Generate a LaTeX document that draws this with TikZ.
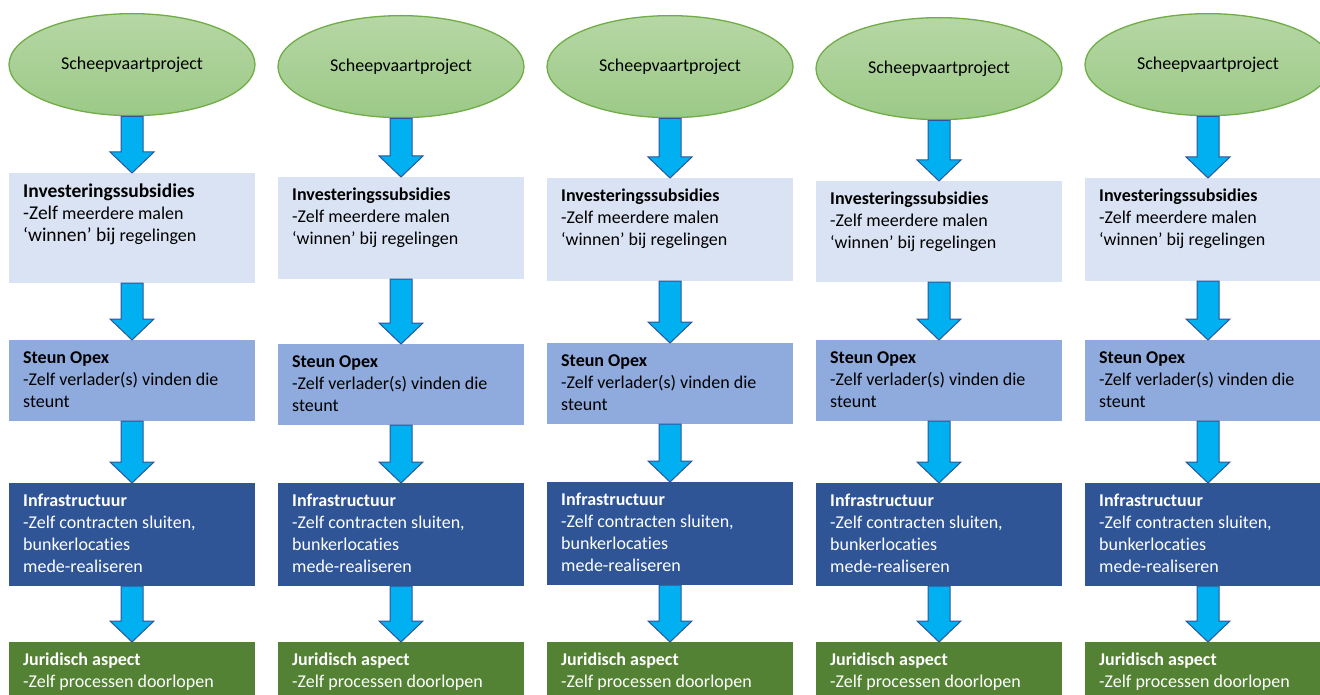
\documentclass[tikz,border=0pt]{standalone}
\usepackage{fontspec}
\setmainfont{Carlito}[Ligatures=NoCommon]
\usetikzlibrary{calc}
\usetikzlibrary{shapes.geometric}

\definecolor{projline}{HTML}{70AD47}
\definecolor{projtop}{HTML}{B6D7A5}
\definecolor{projbot}{HTML}{9CC987}
\definecolor{invfill}{HTML}{DAE3F3}
\definecolor{opexfill}{HTML}{8FAADC}
\definecolor{infrafill}{HTML}{2F5597}
\definecolor{jurfill}{HTML}{548235}
\definecolor{arrowfill}{HTML}{00B0F0}
\definecolor{arrowline}{HTML}{2F5597}

\tikzset{
  project/.style={ellipse, draw=projline, line width=1.3pt, top color=projtop, bottom color=projbot,
    minimum width=246pt, minimum height=102pt, inner sep=0pt, anchor=north,
    font=\fontsize{18}{22}\selectfont},
  stage/.style={rectangle, inner sep=0pt, outer sep=0pt, minimum width=246pt, anchor=north},
  stagetext/.style={anchor=north west, align=left, inner sep=0pt, font=\fontsize{18}{22}\selectfont},
  blockarrow/.style={fill=arrowfill, draw=arrowline, line width=1pt},
}

% block arrow from the bottom of #1 to the top of #2
\newcommand\blockdown[2]{%
  \draw[blockarrow] let \p1=(#1.south), \p2=(#2.north) in
    (\x1-11pt,\y1) -- (\x1+11pt,\y1) -- (\x1+11pt,\y2+21pt) -- (\x1+22pt,\y2+21pt)
    -- (\x1,\y2) -- (\x1-22pt,\y2+21pt) -- (\x1-11pt,\y2+21pt) -- cycle;}
% bigger words in the first column
\newcommand\hi[1]{{\fontsize{\fsz}{22}\selectfont#1}}

\begin{document}
\begin{tikzpicture}[x=1pt,y=-1pt]
  % Boundary
  \useasboundingbox (0,0) rectangle (1320,695);
  \clip (0,0) rectangle (1320,695);
  % Columns
  \foreach \k/\c/\et/\at/\ah/\bt/\ct/\fsz in {1/132/13/173/110/340/483/19.5, 2/401/15/177/102/344/483/18,
      3/670/15/178/103/343/482/18, 4/939/17/181/101/340/483/18, 5/1208/13/178/103/340/483/18}{
    \node[project] (proj\k) at (\c,\et) {Scheepvaartproject};
    \node[stage, fill=invfill, minimum height={\ah*1pt}] (inv\k) at (\c,\at) {};
    \node[stage, fill=opexfill, minimum height=81pt] (opex\k) at (\c,\bt) {};
    \node[stage, fill=infrafill, minimum height=103pt] (infra\k) at (\c,\ct) {};
    \node[stage, fill=jurfill, minimum height=60pt] (jur\k) at (\c,642) {};
    % Texts
    \node[stagetext] (invtext\k) at ([shift={(14pt,-11pt)}]inv\k.north west)
      {\hi{\textbf{Investeringssubsidies}}\\\hi{-Zelf} meerdere malen\\\hi{‘winnen’ bij} regelingen};
    \node[stagetext] (opextext\k) at ([shift={(14pt,-11pt)}]opex\k.north west)
      {\textbf{Steun Opex}\\-Zelf verlader(s) vinden die\\steunt};
    \node[stagetext, text=white] (infratext\k) at ([shift={(14pt,-11pt)}]infra\k.north west)
      {\textbf{Infrastructuur}\\-Zelf contracten sluiten,\\bunkerlocaties\\mede-realiseren};
    \node[stagetext, text=white] (jurtext\k) at ([shift={(14pt,-11pt)}]jur\k.north west)
      {\textbf{Juridisch aspect}\\-Zelf processen doorlopen};
    % Arrows
    \blockdown{proj\k}{inv\k}
    \blockdown{inv\k}{opex\k}
    \blockdown{opex\k}{infra\k}
    \blockdown{infra\k}{jur\k}
  }
\end{tikzpicture}
\end{document}
